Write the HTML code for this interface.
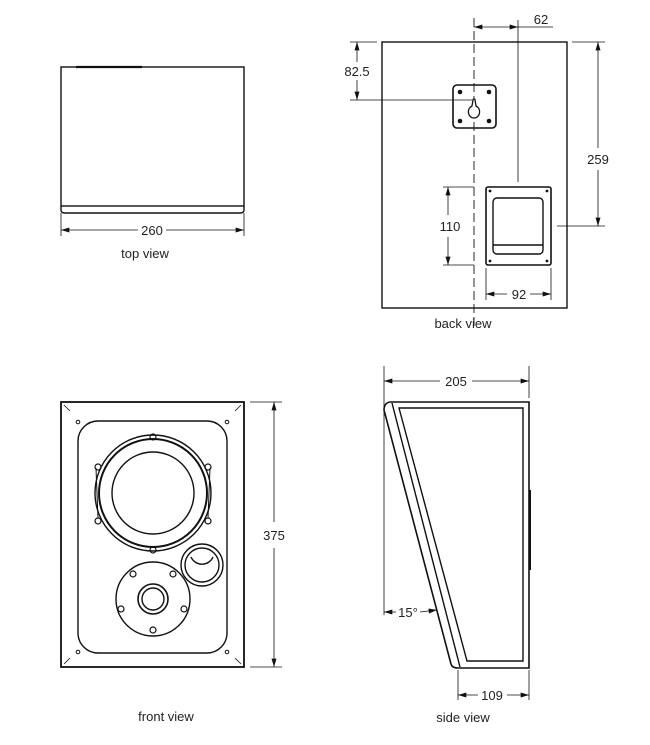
<!DOCTYPE html>
<html><head><meta charset="utf-8"><style>
html,body{margin:0;padding:0;background:#fff;width:650px;height:745px;overflow:hidden}
svg{display:block}
text{font-family:"Liberation Sans",sans-serif;font-size:13px;fill:#222}
</style></head><body>
<svg width="650" height="745" viewBox="0 0 650 745" xmlns="http://www.w3.org/2000/svg">
<defs>
<marker id="a" viewBox="0 0 10 6" refX="10" refY="3" markerWidth="12" markerHeight="5" orient="auto-start-reverse" markerUnits="userSpaceOnUse"><path d="M0,0 L10,3 L0,6 z" fill="#111"/></marker>
</defs>
<g stroke="#111" fill="none" stroke-width="1.4">
<!-- top view -->
<rect x="61" y="67" width="183" height="139"/>
<path d="M61,206 v4 q0,3 4,3 h175 q4,0 4,-3 v-4"/>
<line x1="76" y1="67" x2="142" y2="67" stroke-width="2.2"/>
<g stroke-width="0.8"><line x1="61" y1="213" x2="61" y2="236"/><line x1="244" y1="213" x2="244" y2="236"/>
<line x1="61" y1="230" x2="138" y2="230" marker-start="url(#a)"/><line x1="166" y1="230" x2="244" y2="230" marker-end="url(#a)"/></g>

<!-- back view -->
<rect x="382" y="42" width="185" height="266"/>
<line x1="474" y1="18" x2="474" y2="330" stroke-width="0.9" stroke-dasharray="9,4"/>
<rect x="453" y="85" width="43" height="43" rx="4" stroke-width="1.6"/>
<g fill="#111" stroke="none"><circle cx="460" cy="92" r="2.3"/><circle cx="489" cy="92" r="2.3"/><circle cx="460" cy="121" r="2.3"/><circle cx="489" cy="121" r="2.3"/></g>
<path d="M472,106 C466,109 468,118 474,118 C480,118 482,109 476,106 L475,100 A1,1 0 0 0 473,100 Z" stroke-width="1.3" fill="#fff"/>
<rect x="486" y="187" width="65" height="78" rx="2" stroke-width="1.6"/>
<rect x="493" y="198" width="50" height="56" rx="4"/>
<line x1="493" y1="245" x2="543" y2="245"/>
<g fill="#111" stroke="none"><circle cx="490" cy="191" r="1.4"/><circle cx="547" cy="191" r="1.4"/><circle cx="490" cy="261" r="1.4"/><circle cx="547" cy="261" r="1.4"/></g>
<g stroke-width="0.8">
<line x1="518" y1="20" x2="518" y2="182"/>
<line x1="518" y1="27" x2="553" y2="27"/>
<line x1="474" y1="27" x2="518" y2="27" marker-start="url(#a)" marker-end="url(#a)"/>
<line x1="350" y1="42" x2="377" y2="42"/><line x1="350" y1="100" x2="472" y2="100"/>
<line x1="357" y1="42" x2="357" y2="62" marker-start="url(#a)"/><line x1="357" y1="80" x2="357" y2="100" marker-end="url(#a)"/>
<line x1="443" y1="187" x2="474" y2="187"/><line x1="443" y1="265" x2="474" y2="265"/>
<line x1="448" y1="187" x2="448" y2="215" marker-start="url(#a)"/><line x1="448" y1="237" x2="448" y2="265" marker-end="url(#a)"/>
<line x1="572" y1="42" x2="605" y2="42"/><line x1="557" y1="226" x2="605" y2="226"/>
<line x1="598" y1="42" x2="598" y2="148" marker-start="url(#a)"/><line x1="598" y1="170" x2="598" y2="226" marker-end="url(#a)"/>
<line x1="486" y1="268" x2="486" y2="300"/><line x1="551" y1="268" x2="551" y2="300"/>
<line x1="486" y1="294" x2="507" y2="294" marker-start="url(#a)"/><line x1="530" y1="294" x2="551" y2="294" marker-end="url(#a)"/>
</g>

<!-- front view -->
<rect x="61" y="402" width="183" height="265" stroke-width="1.8"/>
<g stroke-width="0.8"><line x1="64" y1="405" x2="70" y2="411"/><line x1="241" y1="405" x2="235" y2="411"/><line x1="64" y1="664" x2="70" y2="658"/><line x1="241" y1="664" x2="235" y2="658"/></g>
<rect x="78" y="421" width="149" height="232" rx="20"/>
<g stroke-width="1"><circle cx="78" cy="422" r="1.8"/><circle cx="227" cy="422" r="1.8"/><circle cx="78" cy="652" r="1.8"/><circle cx="227" cy="652" r="1.8"/></g>
<circle cx="153" cy="493" r="58"/>
<circle cx="153" cy="493" r="54" stroke-width="2"/>
<circle cx="153" cy="493" r="41"/>
<path d="M96,468 L98,518 M210,468 L208,518" stroke-width="1"/>
<g stroke-width="1.2"><circle cx="153" cy="437" r="3"/><circle cx="153" cy="550" r="3"/><circle cx="98" cy="467" r="3"/><circle cx="208" cy="467" r="3"/><circle cx="98" cy="521" r="3"/><circle cx="208" cy="521" r="3"/></g>
<circle cx="202" cy="565" r="21"/><circle cx="202" cy="565" r="17"/>
<path d="M191,557 a12,12 0 0 0 22,0" />
<circle cx="153" cy="599" r="37"/>
<circle cx="153" cy="599" r="15" stroke-width="1.6"/><circle cx="153" cy="599" r="11"/>
<g stroke-width="1.2"><circle cx="133" cy="574" r="3"/><circle cx="173" cy="574" r="3"/><circle cx="121" cy="609" r="3"/><circle cx="184" cy="609" r="3"/><circle cx="153" cy="630" r="3"/></g>
<g stroke-width="0.8"><line x1="250" y1="402" x2="282" y2="402"/><line x1="250" y1="667" x2="282" y2="667"/>
<line x1="274" y1="402" x2="274" y2="522" marker-start="url(#a)"/><line x1="274" y1="548" x2="274" y2="667" marker-end="url(#a)"/></g>

<!-- side view -->
<path d="M390,402 H529 V668 H458 Q452,668 451,664 L384,410 Q384,403 390,402 z" stroke-width="1.6"/>
<line x1="392" y1="403" x2="460" y2="667"/>
<path d="M399,408 H523 V661 H467 z"/>
<line x1="530" y1="490" x2="530" y2="570" stroke-width="2"/>
<g stroke-width="0.8">
<line x1="384" y1="366" x2="384" y2="615"/><line x1="529" y1="366" x2="529" y2="398"/>
<line x1="384" y1="381" x2="440" y2="381" marker-start="url(#a)"/><line x1="472" y1="381" x2="529" y2="381" marker-end="url(#a)"/>
<line x1="384" y1="612" x2="396" y2="612" marker-start="url(#a)"/><line x1="420" y1="612" x2="437" y2="610" marker-end="url(#a)"/>
<line x1="458" y1="670" x2="458" y2="700"/><line x1="529" y1="670" x2="529" y2="700"/>
<line x1="458" y1="695" x2="478" y2="695" marker-start="url(#a)"/><line x1="507" y1="695" x2="529" y2="695" marker-end="url(#a)"/>
</g>
</g>
<g>
<text x="152" y="235" text-anchor="middle">260</text>
<text x="145" y="258" text-anchor="middle">top view</text>
<text x="541" y="24" text-anchor="middle">62</text>
<text x="357" y="76" text-anchor="middle">82.5</text>
<text x="450" y="231" text-anchor="middle">110</text>
<text x="598" y="164" text-anchor="middle">259</text>
<text x="519" y="299" text-anchor="middle">92</text>
<text x="463" y="328" text-anchor="middle">back view</text>
<text x="274" y="540" text-anchor="middle">375</text>
<text x="166" y="721" text-anchor="middle">front view</text>
<text x="456" y="386" text-anchor="middle">205</text>
<text x="408" y="617" text-anchor="middle">15°</text>
<text x="492" y="700" text-anchor="middle">109</text>
<text x="463" y="722" text-anchor="middle">side view</text>
</g>
</svg>
</body></html>
